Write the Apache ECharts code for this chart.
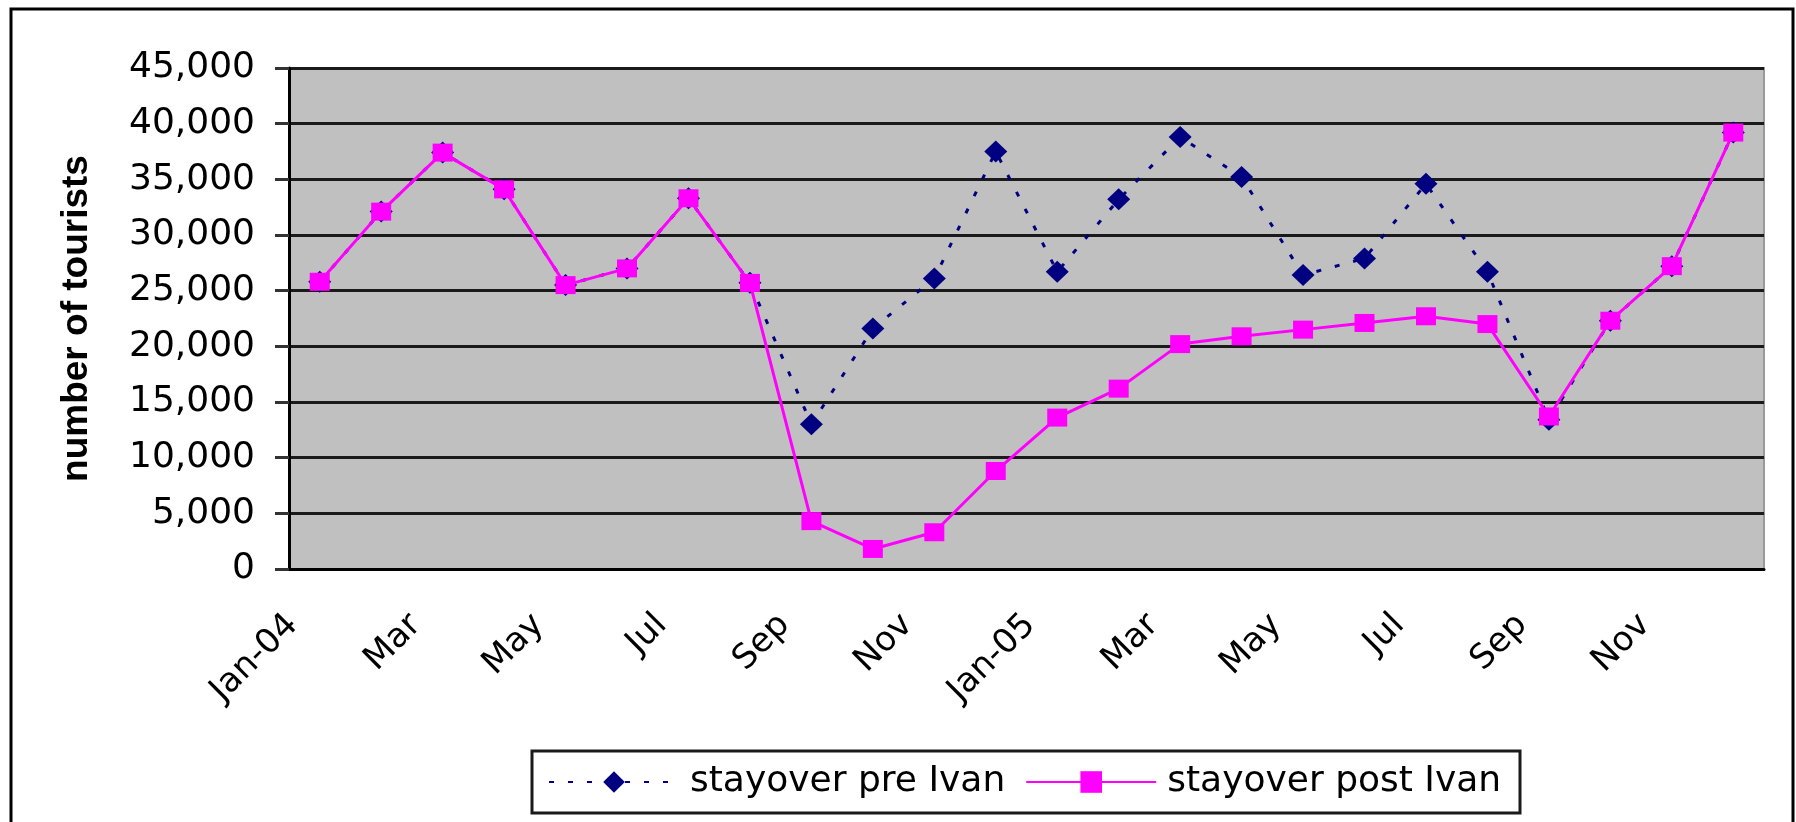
<!DOCTYPE html>
<html>
<head>
<meta charset="utf-8">
<script src="https://cdn.jsdelivr.net/npm/echarts@6/dist/echarts.min.js"></script>
<style>
  html, body { margin: 0; padding: 0; background: #fff; }
  #chart { width: 1796px; height: 822px; }
</style>
</head>
<body>
<div id="chart"></div>
<script>
// months Jan-04 .. Dec-05
var months = ['Jan-04', 'Feb', 'Mar', 'Apr', 'May', 'Jun', 'Jul', 'Aug', 'Sep', 'Oct', 'Nov', 'Dec',
              'Jan-05', 'Feb', 'Mar', 'Apr', 'May', 'Jun', 'Jul', 'Aug', 'Sep', 'Oct', 'Nov', 'Dec'];

var preIvan = [25800, 32100, 37400, 34100, 25500, 27000, 33300, 25700, 13000, 21600, 26100, 37500,
               26700, 33200, 38800, 35200, 26400, 27900, 34600, 26700, 13400, 22300, 27200, 39200];

var postIvan = [25800, 32100, 37400, 34100, 25500, 27000, 33300, 25700, 4300, 1800, 3300, 8800,
                13600, 16200, 20200, 20900, 21500, 22100, 22700, 22000, 13700, 22300, 27200, 39200];

var seriesNames = ['stayover pre Ivan', 'stayover post Ivan'];
var yTitle = 'number of tourists';

var textFont = 'DejaVu Sans';

var myChart = echarts.init(document.getElementById('chart'));

myChart.setOption({
    backgroundColor: '#fff',
    animation: false,
    grid: {
        left: 289,
        right: 32,
        top: 68,
        bottom: 253,
        show: true,
        backgroundColor: '#c0c0c0',
        borderColor: '#999',
        borderWidth: 2
    },
    graphic: [
        {   // outer chart frame
            type: 'rect',
            z: -10,
            shape: { x: 11, y: 9, width: 1782, height: 840 },
            style: { fill: 'none', stroke: '#000', lineWidth: 3 }
        },
        {   // legend box
            type: 'rect',
            z: -10,
            shape: { x: 532, y: 751, width: 988, height: 62 },
            style: { fill: '#fff', stroke: '#1a1a1a', lineWidth: 3 }
        }
    ],
    legend: {
        left: 548,
        top: 762,
        padding: 0,
        itemWidth: 130,
        itemHeight: 27,
        itemGap: 20,
        textStyle: {
            fontFamily: textFont,
            fontSize: 36,
            color: '#000',
            lineHeight: 40,
            padding: [0, 0, 0, 6]
        },
        data: seriesNames
    },
    xAxis: {
        type: 'category',
        data: months,
        boundaryGap: true,
        axisLine: { lineStyle: { color: '#000', width: 3 } },
        axisTick: { interval: 0, length: 13, lineStyle: { color: '#111', width: 3 } },
        axisLabel: {
            interval: 1,
            rotate: 45,
            margin: 24,
            padding: [0, 38, 0, 0],
            fontFamily: textFont,
            fontSize: 34,
            color: '#000'
        },
        splitLine: { show: false }
    },
    yAxis: {
        type: 'value',
        min: 0,
        max: 45000,
        interval: 5000,
        name: yTitle,
        nameLocation: 'middle',
        nameGap: 194,
        nameTextStyle: {
            fontFamily: 'Liberation Sans',
            fontWeight: 'bold',
            fontSize: 37,
            color: '#000'
        },
        axisLine: { show: true, lineStyle: { color: '#000', width: 3 } },
        axisTick: { show: true, length: 14, lineStyle: { color: '#333', width: 3 } },
        axisLabel: {
            margin: 34,
            fontFamily: textFont,
            fontSize: 36,
            color: '#000',
            formatter: function (v) { return v.toLocaleString('en-US'); }
        },
        splitLine: { lineStyle: { color: '#1a1a1a', width: 3 } }
    },
    series: [
        {
            name: seriesNames[0],
            type: 'line',
            data: preIvan,
            symbol: 'diamond',
            symbolSize: [23, 22],
            lineStyle: { color: '#000080', width: 3, type: [5, 14] },
            itemStyle: { color: '#000080' },
            z: 2
        },
        {
            name: seriesNames[1],
            type: 'line',
            data: postIvan,
            symbol: 'rect',
            symbolSize: [20, 18],
            lineStyle: { color: '#ff00ff', width: 3 },
            itemStyle: { color: '#ff00ff' },
            z: 3
        }
    ]
});
</script>
</body>
</html>
